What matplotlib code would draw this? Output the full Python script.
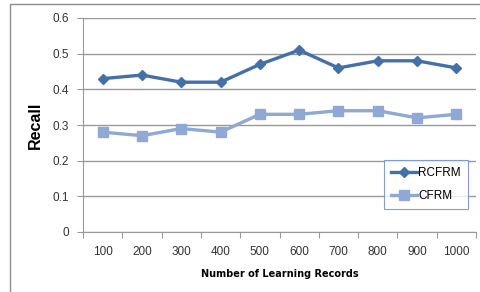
import numpy as np
import matplotlib.pyplot as plt
from matplotlib.patches import Rectangle

# datos
records = ['100', '200', '300', '400', '500', '600', '700', '800', '900', '1000']
rcfrm = [0.43, 0.44, 0.42, 0.42, 0.47, 0.51, 0.46, 0.48, 0.48, 0.46]
cfrm = [0.28, 0.27, 0.29, 0.28, 0.33, 0.33, 0.34, 0.34, 0.32, 0.33]
y_ticks = [0, 0.1, 0.2, 0.3, 0.4, 0.5, 0.6]

plt.rcParams['font.family'] = ['Liberation Sans', 'DejaVu Sans']

fig = plt.figure(figsize=(4.8, 2.92), dpi=100)
fig.patches.append(Rectangle((10 / 480, -0.1), 1.2, 1 - 4 / 292 + 0.1,
                             transform=fig.transFigure, fill=False,
                             edgecolor='#8c8c8c', lw=1.0))

ax = fig.add_axes([83 / 480, 1 - 232 / 292, 393 / 480, 214 / 292])
x = np.arange(len(records))

ax.plot(x, rcfrm, color='#4470a8', lw=2.4, marker='D', ms=5.5, label='RCFRM', zorder=3)
ax.plot(x, cfrm, color='#8fa8d4', lw=2.4, marker='s', ms=6.5, label='CFRM', zorder=3)

ax.set_xlim(-0.5, len(records) - 0.5)
ax.set_ylim(0, 0.6)
ax.set_yticks(y_ticks)
ax.set_yticklabels(['0', '0.1', '0.2', '0.3', '0.4', '0.5', '0.6'])
ax.yaxis.grid(True, color='#999999', lw=1.0)
ax.set_axisbelow(True)

# ticks entre categorias
ax.set_xticks(np.arange(-0.5, len(records), 1.0))
ax.set_xticklabels([])
ax.set_xticks(x, minor=True)
ax.set_xticklabels(records, minor=True)
ax.tick_params(axis='x', which='major', length=4, color='#999999', direction='out')
ax.tick_params(axis='x', which='minor', length=0, pad=10, labelsize=8.5, labelcolor='#333333')
ax.tick_params(axis='y', length=4, color='#999999', labelsize=8.5, labelcolor='#333333', pad=6)

for s in ['top', 'right']:
    ax.spines[s].set_visible(False)
for s in ['left', 'bottom']:
    ax.spines[s].set_color('#999999')

ax.set_xlabel('Number of Learning Records', fontsize=7, fontweight='bold',
              family='DejaVu Sans', labelpad=8)
ax.set_ylabel('Recall', fontsize=11.5, fontweight='bold', labelpad=7)

leg = ax.legend(loc='lower right', bbox_to_anchor=(0.995, 0.08), fontsize=8.5,
                frameon=True, fancybox=False, handlelength=2.2, borderpad=0.6,
                labelspacing=0.9, handletextpad=0.1)
leg.get_frame().set_edgecolor('#6b86b8')
leg.get_frame().set_linewidth(0.8)

fig.savefig('out.png', dpi=100)
